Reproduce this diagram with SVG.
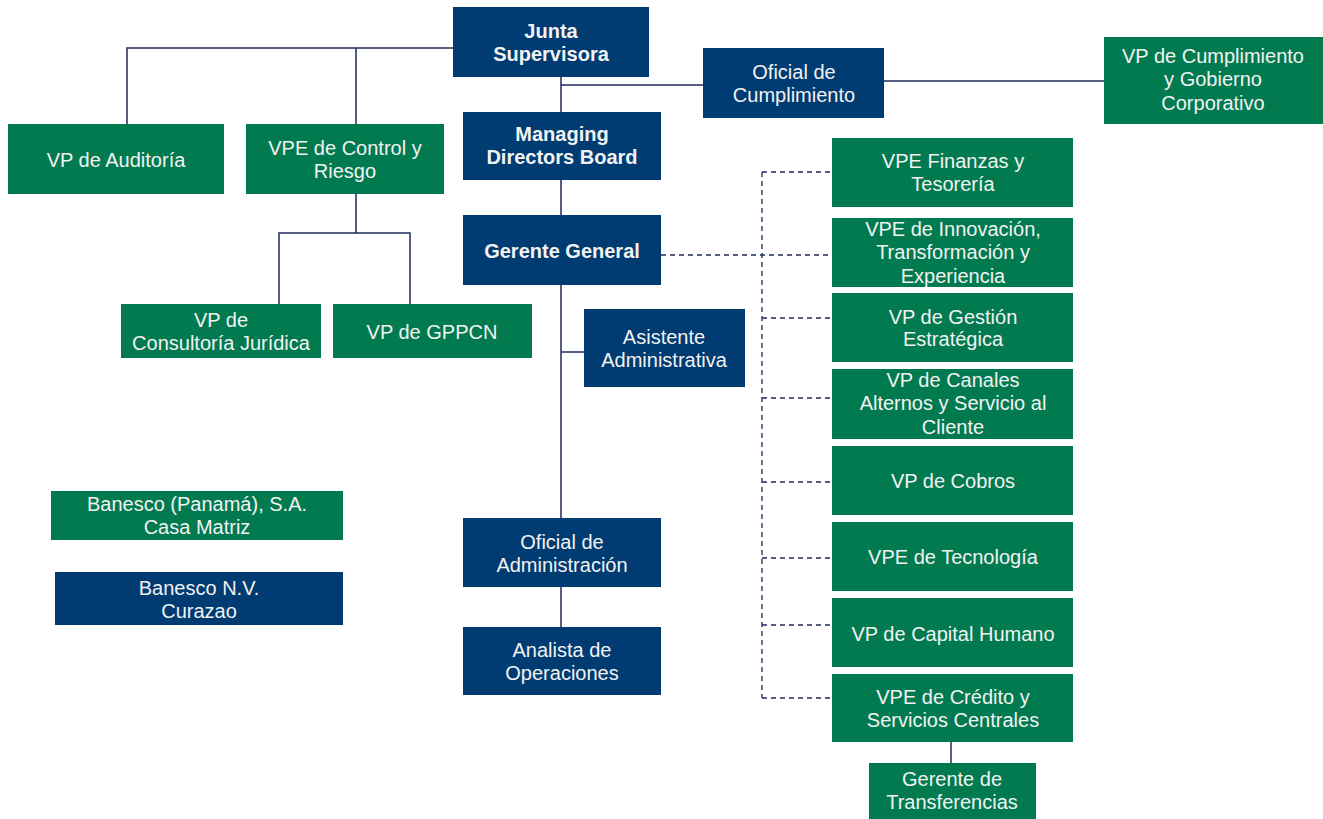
<svg xmlns="http://www.w3.org/2000/svg" width="1323" height="819" viewBox="0 0 1323 819">
<style>
.n{fill:#003b71}
.g{fill:#017a50}
text{font-family:"Liberation Sans",Arial,sans-serif;font-size:20px;fill:#f2f2f2;text-anchor:middle}
.b{font-weight:bold}
.c{fill:none;stroke:#1e2b5e;stroke-width:1.5}
.d{fill:none;stroke:#1e2b5e;stroke-width:1.3;stroke-dasharray:5 4}
</style>
<rect width="1323" height="819" fill="#ffffff"/>
<g id="connectors">
<path class="c" d="M453 48H127V124M356 48V124"/>
<path class="c" d="M561 77V112M561 85H703M884 81H1104"/>
<path class="c" d="M561 180V215M561 285V518M561 352H584M561 587V627"/>
<path class="c" d="M356 194V233M279 304V233H410V304"/>
<path class="c" d="M951 742V763"/>
<path class="d" d="M661 255H833M762 172V698M762 172H833M762 318H833M762 398H833M762 482H833M762 558H833M762 625H833M762 698H833"/>
</g>
<g id="junta"><rect class="n" x="453" y="7" width="196" height="70"/><text class="b" x="551" y="38">Junta</text><text class="b" x="551" y="61">Supervisora</text></g>
<g id="oficial-cumplimiento"><rect class="n" x="703" y="48" width="181" height="70"/><text x="794" y="79">Oficial de</text><text x="794" y="102">Cumplimiento</text></g>
<g id="vp-cumplimiento"><rect class="g" x="1104" y="37" width="219" height="87"/><text x="1213" y="63">VP de Cumplimiento</text><text x="1213" y="86">y Gobierno</text><text x="1213" y="110">Corporativo</text></g>
<g id="vp-auditoria"><rect class="g" x="8" y="124" width="216" height="70"/><text x="116" y="167">VP de Auditoría</text></g>
<g id="vpe-control"><rect class="g" x="246" y="124" width="198" height="70"/><text x="345" y="155">VPE de Control y</text><text x="345" y="178">Riesgo</text></g>
<g id="managing"><rect class="n" x="463" y="112" width="198" height="68"/><text class="b" x="562" y="141">Managing</text><text class="b" x="562" y="164">Directors Board</text></g>
<g id="gerente-general"><rect class="n" x="463" y="215" width="198" height="70"/><text class="b" x="562" y="258">Gerente General</text></g>
<g id="consultoria"><rect class="g" x="121" y="304" width="200" height="54"/><text x="221" y="327">VP de</text><text x="221" y="350">Consultoría Jurídica</text></g>
<g id="gppcn"><rect class="g" x="333" y="304" width="199" height="54"/><text x="432" y="339">VP de GPPCN</text></g>
<g id="asistente"><rect class="n" x="584" y="309" width="161" height="78"/><text x="664" y="344">Asistente</text><text x="664" y="367">Administrativa</text></g>
<g id="oficial-admin"><rect class="n" x="463" y="518" width="198" height="69"/><text x="562" y="549">Oficial de</text><text x="562" y="572">Administración</text></g>
<g id="analista"><rect class="n" x="463" y="627" width="198" height="68"/><text x="562" y="657">Analista de</text><text x="562" y="680">Operaciones</text></g>
<g id="banesco-panama"><rect class="g" x="51" y="491" width="292" height="49"/><text x="197" y="511">Banesco (Panamá), S.A.</text><text x="197" y="534">Casa Matriz</text></g>
<g id="banesco-nv"><rect class="n" x="55" y="572" width="288" height="53"/><text x="199" y="595">Banesco N.V.</text><text x="199" y="618">Curazao</text></g>
<g id="finanzas"><rect class="g" x="832" y="138" width="241" height="69"/><text x="953" y="168">VPE Finanzas y</text><text x="953" y="191">Tesorería</text></g>
<g id="innovacion"><rect class="g" x="832" y="218" width="241" height="69"/><text x="953" y="236">VPE de Innovación,</text><text x="953" y="259">Transformación y</text><text x="953" y="283">Experiencia</text></g>
<g id="gestion"><rect class="g" x="832" y="293" width="241" height="69"/><text x="953" y="324">VP de Gestión</text><text x="953" y="346">Estratégica</text></g>
<g id="canales"><rect class="g" x="832" y="369" width="241" height="70"/><text x="953" y="387">VP de Canales</text><text x="953" y="410">Alternos y Servicio al</text><text x="953" y="434">Cliente</text></g>
<g id="cobros"><rect class="g" x="832" y="446" width="241" height="69"/><text x="953" y="488">VP de Cobros</text></g>
<g id="tecnologia"><rect class="g" x="832" y="522" width="241" height="69"/><text x="953" y="564">VPE de Tecnología</text></g>
<g id="capital-humano"><rect class="g" x="832" y="598" width="241" height="69"/><text x="953" y="641">VP de Capital Humano</text></g>
<g id="credito"><rect class="g" x="832" y="674" width="241" height="68"/><text x="953" y="704">VPE de Crédito y</text><text x="953" y="727">Servicios Centrales</text></g>
<g id="transferencias"><rect class="g" x="869" y="763" width="167" height="56"/><text x="952" y="786">Gerente de</text><text x="952" y="809">Transferencias</text></g>
</svg>
